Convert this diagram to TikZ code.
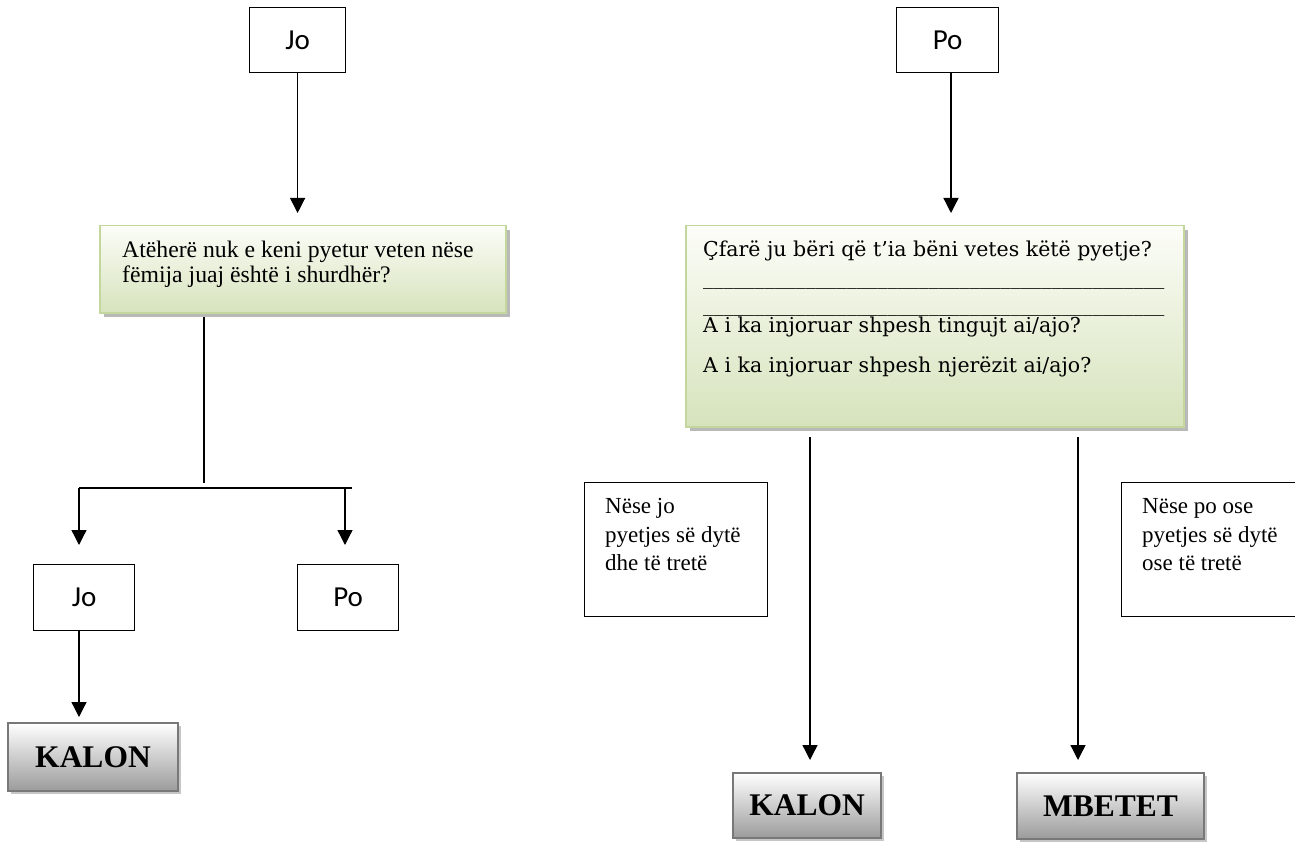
\documentclass[tikz,border=0pt]{standalone}
\usepackage{fontspec}
\setmainfont{Liberation Serif}
\newfontfamily\calib{Carlito}
\newfontfamily\camb{DejaVu Serif}
\usetikzlibrary{arrows.meta,shadows}
\begin{document}
\begin{tikzpicture}[x=1pt,y=-1pt,
  plainbox/.style={draw=black,line width=1.2pt,fill=white,inner sep=0pt,anchor=north west,font=\calib\fontsize{29}{32}\selectfont},
  notebox/.style={draw=black,line width=1.2pt,fill=white,inner sep=0pt,anchor=north west},
  greenbox/.style={draw={rgb,255:red,195;green,214;blue,155},line width=1.5pt,top color={rgb,255:red,252;green,253;blue,248},bottom color={rgb,255:red,214;green,227;blue,188},inner sep=0pt,anchor=north west,drop shadow={shadow xshift=4pt,shadow yshift=-4pt,fill=gray!55,opacity=1}},
  graybox/.style={draw={rgb,255:red,120;green,120;blue,120},line width=2pt,top color=white,bottom color={rgb,255:red,155;green,155;blue,155},inner sep=0pt,anchor=north west,font=\bfseries\fontsize{31.5}{34}\selectfont,drop shadow={shadow xshift=3pt,shadow yshift=-3pt,fill=gray!45,opacity=1}},
  txt/.style={anchor=base west,inner sep=0pt,font=\fontsize{23.7}{26}\selectfont},
  ntxt/.style={anchor=base west,inner sep=0pt,font=\fontsize{23}{26}\selectfont},
  ctxt/.style={anchor=base west,inner sep=0pt,font=\camb\fontsize{20.5}{25}\selectfont},
  arr/.style={line width=1.3pt,-{Triangle[width=15pt,length=15pt]}},
  ln/.style={line width=1.3pt}]
\useasboundingbox (0,0) rectangle (1295,842);
% top boxes
\node[plainbox,minimum width=96,minimum height=65] (jotop) at (249,7) {Jo};
\node[plainbox,minimum width=102,minimum height=65] (potop) at (896,7) {Po};
% green boxes
\node[greenbox,minimum width=406,minimum height=87] (gl) at (99,225) {};
\node[greenbox,minimum width=498,minimum height=201] (gr) at (685,225) {};
\node[txt] (gl1) at (122,258) {Atëherë nuk e keni pyetur veten nëse};
\node[txt] (gl2) at (122,283) {fëmija juaj është i shurdhër?};
\def\uu{\_\_\_\_\_\_\_\_\_\_\_\_\_\_\_}
\node[ctxt] (gr1) at (703,257) {Çfarë ju bëri që t’ia bëni vetes këtë pyetje?};
\node[ctxt] (gr2) at (703,284) {\uu\uu\uu};
\node[ctxt] (gr3) at (703,311) {\uu\uu\uu};
\node[ctxt] (gr4) at (703,332) {A i ka injoruar shpesh tingujt ai/ajo?};
\node[ctxt] (gr5) at (703,372) {A i ka injoruar shpesh njerëzit ai/ajo?};
% small boxes
\node[plainbox,minimum width=101,minimum height=66] (jo2) at (33,564) {Jo};
\node[plainbox,minimum width=101,minimum height=66] (po2) at (297,564) {Po};
% note boxes
\node[notebox,minimum width=183,minimum height=134] (n1) at (584,482) {};
\node[notebox,minimum width=190,minimum height=134] (n2) at (1121,482) {};
\node[ntxt] (n1a) at (605,513) {Nëse jo};
\node[ntxt] (n1b) at (605,542) {pyetjes së dytë};
\node[ntxt] (n1c) at (605,570) {dhe të tretë};
\node[ntxt] (n2a) at (1142,513) {Nëse po ose};
\node[ntxt] (n2b) at (1142,542) {pyetjes së dytë};
\node[ntxt] (n2c) at (1142,570) {ose të tretë};
% result boxes
\node[graybox,minimum width=170,minimum height=68] (k1) at (7,722) {KALON};
\node[graybox,minimum width=148,minimum height=65] (k2) at (732,772) {KALON};
\node[graybox,minimum width=187,minimum height=66] (mb) at (1016,772) {MBETET};
% connectors left
\draw[arr] (jotop.south) -- (jotop.south |- 0,213);
\coordinate (ls) at (204,317);
\coordinate (le) at (204,483);
\draw[ln] (ls) -- (le);
\coordinate (hl) at (79,488);
\coordinate (hr) at (352,488);
\draw[ln] (hl) -- (hr);
\coordinate (pa) at (345,488);
\draw[arr] (hl) -- (79,545);
\draw[arr] (pa) -- (345,545);
\draw[arr] (jo2.south -| 79,0) -- (79,717);
% connectors right
\draw[arr] (951,72) -- (951,213);
\coordinate (r1) at (810,437);
\coordinate (r2) at (1078,437);
\draw[arr] (r1) -- (810,760);
\draw[arr] (r2) -- (1078,760);
\end{tikzpicture}
\end{document}
